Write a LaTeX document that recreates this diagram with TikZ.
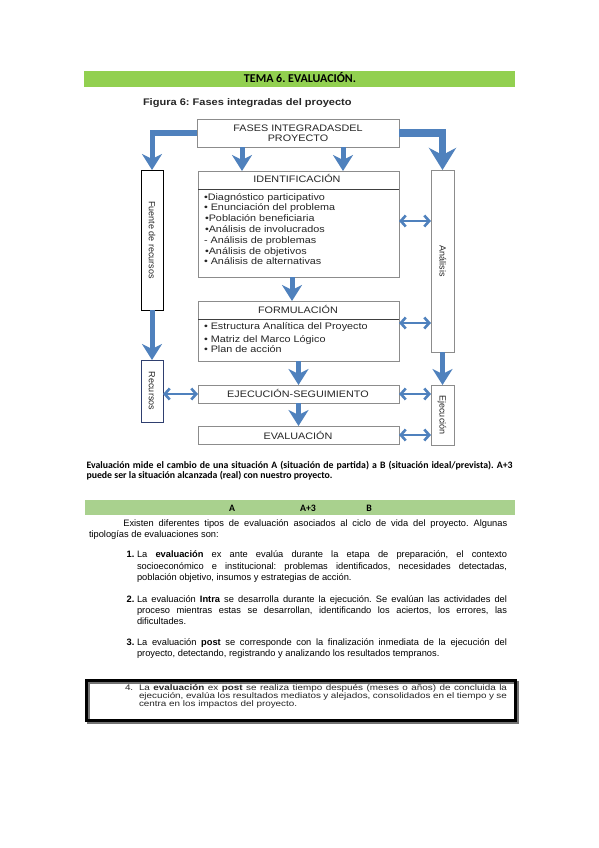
\documentclass[tikz,border=0pt]{standalone}
\usepackage{fontspec}
\setmainfont{Liberation Sans}
\newfontfamily\diagfont[FakeStretch=1.15]{Liberation Sans}
\newfontfamily\boxfont[FakeStretch=1.22]{Liberation Sans}
\newfontfamily\calfont{Carlito}
\usetikzlibrary{arrows.meta}
\definecolor{arrblue}{HTML}{4F81BD}
\definecolor{greenA}{HTML}{92D050}
\definecolor{greenB}{HTML}{A9D18E}
\definecolor{bordergray}{HTML}{8C8C8C}
\definecolor{navyb}{HTML}{2F3F6F}
\definecolor{textgray}{HTML}{262626}
\frenchspacing
\begin{document}
\begin{tikzpicture}[x=1pt,y=-1pt,
  gbox/.style={draw=bordergray, line width=0.8pt, rectangle, inner sep=0pt, outer sep=0pt, anchor=north west},
  txt/.style={inner sep=0pt, outer sep=0pt, anchor=base west},
  ctxt/.style={inner sep=0pt, outer sep=0pt, anchor=base},
  dfont/.style={font=\diagfont\fontsize{9.4}{10.8}\selectfont, text=textgray},
  rfont/.style={font=\fontsize{9}{10}\selectfont, text=textgray, rotate=-90, inner sep=0pt},
  bfont/.style={font=\frenchspacing\fontsize{9.3}{11}\selectfont},
  xfont/.style={font=\frenchspacing\boxfont\fontsize{8.1}{9}\selectfont, text=textgray},
  cfont/.style={font=\frenchspacing\calfont\bfseries\fontsize{9.8}{10}\selectfont},
  barrow/.style={draw=arrblue, line width=5pt, line join=miter, -{Stealth[length=16pt,width=20pt,inset=5pt]}},
  barrowR/.style={draw=arrblue, line width=7pt, line join=miter, -{Stealth[length=22pt,width=27pt,inset=7pt]}},
  darrow/.style={draw=arrblue, line width=2.6pt, {Straight Barb[length=5pt,width=11pt]}-{Straight Barb[length=5pt,width=11pt]}},
  sepline/.style={draw=black!75, line width=0.9pt}
]
\fill[white] (0,0) rectangle (599,848);
\useasboundingbox (0,0) rectangle (599,848);

% header
\fill[greenA] (84,71) rectangle (515,87);
\node[ctxt, font=\calfont\bfseries\fontsize{12}{14}\selectfont] (tema) at (300,82.7) {TEMA 6. EVALUACIÓN.};
\node[txt, font=\diagfont\bfseries\fontsize{9.6}{11}\selectfont, text=textgray] (fig) at (143,106) {Figura 6: Fases integradas del proyecto};

% boxes
\node[gbox, minimum width=202pt, minimum height=28pt] (fases) at (197,119) {};
\node[gbox, minimum width=201pt, minimum height=106pt] (ident) at (198,171) {};
\node[gbox, minimum width=201pt, minimum height=60pt] (form) at (198,301) {};
\node[gbox, minimum width=201pt, minimum height=18pt] (ejec) at (198,385) {};
\node[gbox, minimum width=201pt, minimum height=18pt] (eval) at (198,426) {};
\node[gbox, draw=black, minimum width=22pt, minimum height=140pt] (fuente) at (141,170) {};
\node[gbox, draw=navyb, minimum width=22pt, minimum height=62pt] (recur) at (141,360) {};
\node[gbox, minimum width=23pt, minimum height=182pt] (anal) at (431,170) {};
\node[gbox, minimum width=23pt, minimum height=60pt] (ejecu) at (431,385) {};
\draw[sepline] (198,189) -- (399,189);
\draw[sepline] (198,319) -- (399,319);

% box texts
\node[ctxt, dfont] (t1) at (298,131.7) {FASES INTEGRADASDEL};
\node[ctxt, dfont] (t2) at (298,141.7) {PROYECTO};
\node[ctxt, dfont] (t3) at (297,182.5) {IDENTIFICACIÓN};
\node[txt, dfont] (i1) at (204,200) {•Diagnóstico participativo};
\node[txt, dfont] (i2) at (204,210.8) {• Enunciación del problema};
\node[txt, dfont] (i3) at (205,221.6) {•Población beneficiaria};
\node[txt, dfont] (i4) at (205,232.4) {•Análisis de involucrados};
\node[txt, dfont] (i5) at (204,243.2) {- Análisis de problemas};
\node[txt, dfont] (i6) at (205,254) {•Análisis de objetivos};
\node[txt, dfont] (i7) at (204,264.8) {• Análisis de alternativas};
\node[ctxt, dfont] (t4) at (298,313.5) {FORMULACIÓN};
\node[txt, dfont] (f1) at (204,329) {• Estructura Analítica del Proyecto};
\node[txt, dfont] (f2) at (204,342) {• Matriz del Marco Lógico};
\node[txt, dfont] (f3) at (204,352.5) {• Plan de acción};
\node[ctxt, dfont] (t5) at (298,397) {EJECUCIÓN-SEGUIMIENTO};
\node[ctxt, dfont] (t6) at (298,439) {EVALUACIÓN};
\node[rfont] (r1) at (152,240) {Fuente de recursos};
\node[rfont] (r2) at (443,261) {Análisis};
\node[rfont] (r3) at (152,391) {Recursos};
\node[rfont] (r4) at (442,415) {Ejecución};

% arrows
\coordinate (c1) at (242,0);
\coordinate (c2) at (343,0);
\coordinate (c3) at (292,0);
\draw[barrow] (fases.west) -| (fuente.north);
\draw[barrowR] (fases.east) -| (anal.north);
\draw[barrow] (fases.south -| c1) -- (ident.north -| c1);
\draw[barrow] (fases.south -| c2) -- (ident.north -| c2);
\draw[barrow] (ident.south -| c3) -- (form.north -| c3);
\draw[barrow] (form.south) -- (ejec.north);
\draw[barrow] (ejec.south) -- (eval.north);
\draw[barrow] (fuente.south) -- (recur.north);
\draw[barrow] (anal.south) -- (ejecu.north);
\coordinate (d1) at (0,221);
\coordinate (d2) at (0,323);
\draw[darrow] (ident.east |- d1) -- (anal.west |- d1);
\draw[darrow] (form.east |- d2) -- (anal.west |- d2);
\draw[darrow] (recur.east |- ejec.west) -- (ejec.west);
\draw[darrow] (ejec.east) -- (ejecu.west |- ejec.east);
\draw[darrow] (eval.east) -- (ejecu.west |- eval.east);

% paragraph
\node[txt, cfont] (p1) at (86.5,468) {\makebox[426pt][s]{Evaluación mide el cambio de una situación A (situación de partida) a B (situación ideal/prevista). A+3}};
\node[txt, cfont] (p2) at (86.5,478.5) {puede ser la situación alcanzada (real) con nuestro proyecto.};
\fill[greenB] (85,500) rectangle (515,515);
\node[ctxt, cfont] (ga) at (232,511) {A};
\node[ctxt, cfont] (gb) at (308,511) {A+3};
\node[ctxt, cfont] (gc) at (369,511) {B};

% text
\node[txt, bfont] (e1) at (123.3,526.5) {\makebox[384pt][s]{Existen diferentes tipos de evaluación asociados al ciclo de vida del proyecto. Algunas}};
\node[txt, bfont] (e2) at (89,537.5) {tipologías de evaluaciones son:};

\node[txt, bfont] (n1) at (126.7,557.5) {\textbf{1.}};
\node[txt, bfont] (a1) at (137,557.5) {\makebox[370pt][s]{La \textbf{evaluación} ex ante evalúa durante la etapa de preparación, el contexto}};
\node[txt, bfont] (a2) at (137,569) {\makebox[370pt][s]{socioeconómico e institucional: problemas identificados, necesidades detectadas,}};
\node[txt, bfont] (a3) at (137,580.5) {población objetivo, insumos y estrategias de acción.};

\node[txt, bfont] (n2) at (126.7,602.5) {\textbf{2.}};
\node[txt, bfont] (b1) at (137,602.5) {\makebox[370pt][s]{La evaluación \textbf{Intra} se desarrolla durante la ejecución. Se evalúan las actividades del}};
\node[txt, bfont] (b2) at (137,613.5) {\makebox[370pt][s]{proceso mientras estas se desarrollan, identificando los aciertos, los errores, las}};
\node[txt, bfont] (b3) at (137,624.5) {dificultades.};

\node[txt, bfont] (n3) at (126.7,645) {\textbf{3.}};
\node[txt, bfont] (c1t) at (137,645) {\makebox[370pt][s]{La evaluación \textbf{post} se corresponde con la finalización inmediata de la ejecución del}};
\node[txt, bfont] (c2t) at (137,656) {proyecto, detectando, registrando y analizando los resultados tempranos.};

% box 4
\draw[draw=black!55, line width=3pt] (88.5,682) rectangle (517.5,722.5);
\draw[draw=black, line width=3pt] (86.5,680) rectangle (515.5,720.5);
\node[txt, xfont] (n4) at (125,690.5) {4.};
\node[txt, xfont] (d1t) at (139,690.5) {\makebox[368pt][s]{La \textbf{evaluación} ex \textbf{post} se realiza tiempo después (meses o años) de concluida la}};
\node[txt, xfont] (d2t) at (139,698.2) {\makebox[368pt][s]{ejecución, evalúa los resultados mediatos y alejados, consolidados en el tiempo y se}};
\node[txt, xfont] (d3t) at (139,706) {centra en los impactos del proyecto.};
\end{tikzpicture}
\end{document}
